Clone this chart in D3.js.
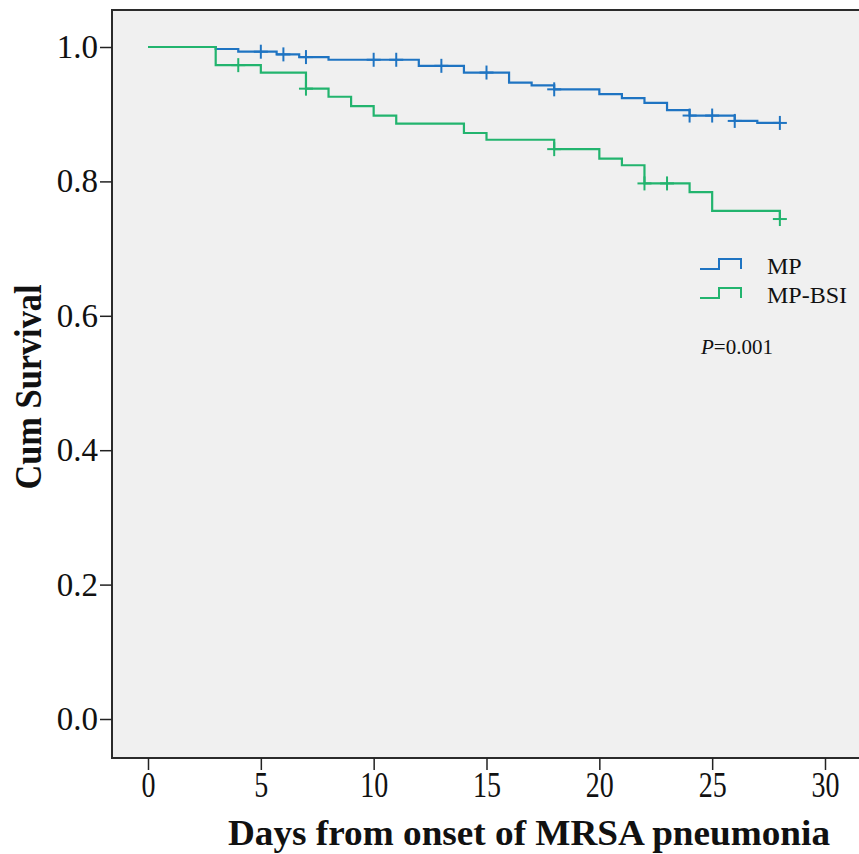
<!DOCTYPE html>
<html>
<head>
<meta charset="utf-8">
<script src="https://cdn.jsdelivr.net/npm/d3@7"></script>
<style>
  body { margin: 0; background: #fff; }
  text { font-family: "Liberation Serif", "Times New Roman", serif; fill: #111; }
</style>
</head>
<body>
<div id="container"></div>
<script>
// Kaplan-Meier steps
let groups = ["MP", "MP-BSI"];
let mpTimes = [0, 3, 4, 5.7, 6.7, 8, 12, 14, 16, 17, 18, 20, 21, 22, 23, 24, 26, 27];
let mpSurv = [1.0, 0.997, 0.993, 0.989, 0.985, 0.981, 0.972, 0.962, 0.947, 0.943, 0.937, 0.930, 0.924, 0.917, 0.906, 0.898, 0.890, 0.887];
let mpCensored = [5, 6, 7, 10, 11, 13, 15, 18, 24, 25, 26, 28];
let bsiTimes = [0, 3, 5, 7, 8, 9, 10, 11, 14, 15, 18, 20, 21, 22, 24, 25, 28];
let bsiSurv = [1.0, 0.973, 0.962, 0.938, 0.926, 0.912, 0.898, 0.886, 0.872, 0.862, 0.848, 0.834, 0.824, 0.797, 0.784, 0.756, 0.744];
let bsiCensored = [4, 7, 18, 22, 23, 28];
let endTime = 28;
let xTicks = [0, 5, 10, 15, 20, 25, 30];
let yTicks = [0, 0.2, 0.4, 0.6, 0.8, 1.0];
let colors = ["#1f74c2", "#22b46e"];

let width = 859, height = 854;
let frame = {left: 112, top: 10, bottom: 758};

let svg = d3.select("#container").append("svg")
    .attr("width", width)
    .attr("height", height);

let x = d3.scaleLinear().domain([0, 30]).range([148, 825]);
let y = d3.scaleLinear().domain([0, 1]).range([719, 47]);

// plot area
svg.append("rect")
    .attr("x", frame.left)
    .attr("y", frame.top)
    .attr("width", width + 10 - frame.left)
    .attr("height", frame.bottom - frame.top)
    .style("fill", "#f0f0f0")
    .style("stroke", "#2b2b2b")
    .style("stroke-width", 2);

// y axis
let yAxis = svg.append("g")
    .attr("transform", "translate(" + frame.left + ",0)")
    .call(d3.axisLeft(y).tickValues(yTicks).tickSize(12).tickPadding(2).tickFormat(d3.format(".1f")));
yAxis.select(".domain").remove();
yAxis.selectAll("line").style("stroke", "#222").style("stroke-width", 1.5);
yAxis.selectAll("text").style("font-size", "33px").style("font-family", "Liberation Serif").style("fill", "#111");

// x axis, labels look vertically stretched in the original
let xAxis = svg.append("g")
    .attr("transform", "translate(0," + frame.bottom + ")")
    .call(d3.axisBottom(x).tickValues(xTicks).tickSize(12));
xAxis.select(".domain").remove();
xAxis.selectAll("line").style("stroke", "#222").style("stroke-width", 1.5);
xAxis.selectAll("text")
    .attr("dy", null)
    .attr("y", 39 / 1.3)
    .attr("transform", "scale(1,1.3)")
    .style("font-size", "28px").style("font-family", "Liberation Serif").style("fill", "#111");

// axis titles
svg.append("text")
    .attr("x", 529)
    .attr("y", 845)
    .attr("text-anchor", "middle")
    .attr("textLength", 602)
    .attr("lengthAdjust", "spacingAndGlyphs")
    .style("font-size", "35px")
    .style("font-weight", "bold")
    .text("Days from onset of MRSA pneumonia");

svg.append("text")
    .attr("transform", "translate(41,387) rotate(-90)")
    .attr("text-anchor", "middle")
    .attr("textLength", 205)
    .attr("lengthAdjust", "spacingAndGlyphs")
    .style("font-size", "38px")
    .style("font-weight", "bold")
    .text("Cum Survival");

function stepPoints(times, surv) {
    let pts = times.map(function(t, i) { return [t, surv[i]]; });
    pts.push([endTime, surv[surv.length - 1]]);
    return pts;
}

function survAt(times, surv, t) {
    let s = surv[0];
    times.forEach(function(tt, i) { if (tt <= t) s = surv[i]; });
    return s;
}

let line = d3.line()
    .x(function(d) { return x(d[0]); })
    .y(function(d) { return y(d[1]); })
    .curve(d3.curveStepAfter);

let series = [
    {name: groups[0], times: mpTimes, surv: mpSurv, censored: mpCensored, color: colors[0]},
    {name: groups[1], times: bsiTimes, surv: bsiSurv, censored: bsiCensored, color: colors[1]}
];

series.forEach(function(s) {
    svg.append("path")
        .datum(stepPoints(s.times, s.surv))
        .attr("d", line)
        .style("fill", "none")
        .style("stroke", s.color)
        .style("stroke-width", 2.2);

    let marks = svg.selectAll(null)
        .data(s.censored)
        .enter().append("g")
        .attr("transform", function(t) { return "translate(" + x(t) + "," + y(survAt(s.times, s.surv, t)) + ")"; });
    marks.append("line")
        .attr("x1", 0).attr("x2", 0).attr("y1", -7).attr("y2", 7)
        .style("stroke", s.color).style("stroke-width", 2);
    marks.append("line")
        .attr("x1", -7).attr("x2", 7).attr("y1", 0).attr("y2", 0)
        .style("stroke", s.color).style("stroke-width", 2);
});

// legend
let legend = svg.append("g")
    .attr("transform", "translate(700,0)");

let item = legend.selectAll(".item")
    .data(series)
    .enter().append("g")
    .attr("class", "item")
    .attr("transform", function(d, i) { return "translate(0," + (269 + i * 29) + ")"; });

item.append("path")
    .attr("d", "M0,0 H19 V-10 H41 V0")
    .style("fill", "none")
    .style("stroke", function(d) { return d.color; })
    .style("stroke-width", 2);

item.append("text")
    .attr("x", 67)
    .attr("y", 5)
    .style("font-size", "24px")
    .text(function(d) { return d.name; });

let pText = legend.append("text")
    .attr("x", 1)
    .attr("y", 354)
    .style("font-size", "21px");
pText.append("tspan").style("font-style", "italic").text("P");
pText.append("tspan").text("=0.001");
</script>
</body>
</html>
